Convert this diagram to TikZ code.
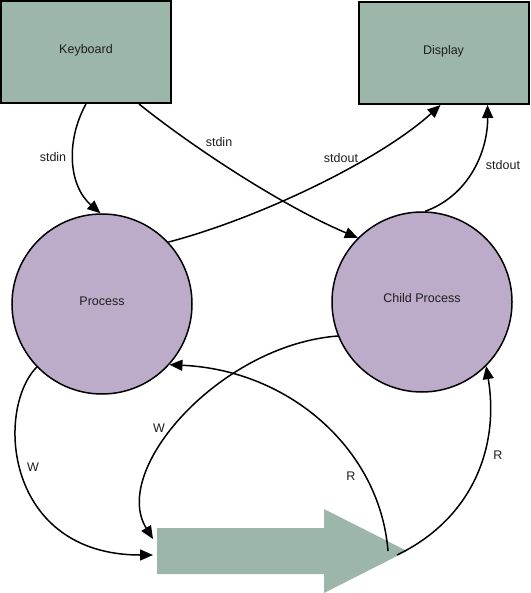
\documentclass[tikz,border=0pt]{standalone}
\usepackage{fontspec}
\setmainfont{Liberation Sans}
\usetikzlibrary{arrows.meta}
\definecolor{boxgreen}{RGB}{156,183,170}
\definecolor{procpurple}{RGB}{188,172,202}
\definecolor{txt}{RGB}{30,30,30}
\begin{document}
\begin{tikzpicture}[x=1pt,y=-1pt,
  font=\fontsize{12.5}{15}\selectfont,
  devbox/.style={draw=black,line width=2pt,fill=boxgreen,minimum width=170pt,minimum height=102pt,inner sep=0pt,text=txt},
  procnode/.style={circle,draw=black,line width=1.5pt,fill=procpurple,inner sep=0pt,text=txt},
  conn/.style={draw=black,line width=1.5pt,-{Triangle[length=13pt,width=11pt]}},
  lbl/.style={text=txt,inner sep=0pt}]
\useasboundingbox (0,0) rectangle (530,593);

\node[devbox,label={[lbl,yshift=2pt]center:Keyboard}] (kb) at (86,52) {};
\node[devbox,label={[lbl,yshift=2pt]center:Display}] (disp) at (443.5,53) {};
\node[procnode,minimum size=180pt,label={[lbl,yshift=3pt]center:Process}] (p) at (102,304) {};
\node[procnode,minimum size=180pt,label={[lbl,yshift=4pt]center:Child Process}] (c) at (422,302) {};

% big arrow (pipe)
\fill[boxgreen] (157,528) -- (324,528) -- (324,509) -- (407,551) -- (324,593) -- (324,574) -- (157,574) -- cycle;
\coordinate (pipeW1) at (153,555);
\coordinate (pipeW2) at (153,539);
\coordinate (pipeR1) at (388,551);
\coordinate (pipeR2) at (397,555);

% stdin
\draw[conn] (kb.south) .. controls (66,140) and (68,185) .. (p.91);
\node[lbl] (l1) at (53,157) {stdin};
\draw[conn] ([xshift=53pt]kb.south) .. controls (190,145) and (280,205) .. (c.135);
\node[lbl] (l2) at (219,142) {stdin};

% stdout
\draw[conn] (p.43) .. controls (260,218) and (380,160) .. ([xshift=-3pt]disp.south);
\node[lbl] (l3) at (341,158) {stdout};
\draw[conn] (c.88) .. controls (470,195) and (488,150) .. ([xshift=44pt]disp.south);
\node[lbl] (l4) at (503,165) {stdout};

% W
\draw[conn] (p.224) .. controls (-5,410) and (5,555) .. (pipeW1);
\node[lbl] (l5) at (33,467) {W};
\draw[conn] (c.202) .. controls (220,345) and (110,470) .. (pipeW2);
\node[lbl] (l6) at (159,428) {W};

% R
\draw[conn] (pipeR1) .. controls (380,450) and (290,370) .. (p.318);
\node[lbl] (l7) at (351,476) {R};
\draw[conn] (pipeR2) .. controls (470,520) and (500,450) .. (c.315);
\node[lbl] (l8) at (498,455) {R};
\end{tikzpicture}
\end{document}
